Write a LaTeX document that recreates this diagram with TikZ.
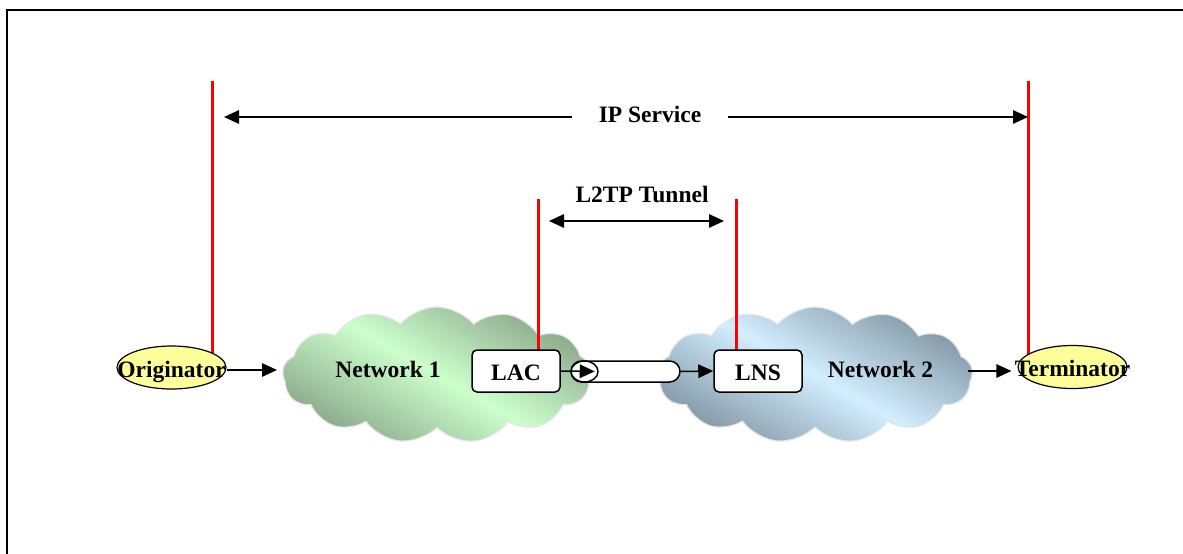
\documentclass[tikz,border=0pt]{standalone}
\usepackage{fontspec}
\setmainfont{Liberation Serif}
\usetikzlibrary{shapes.symbols,shapes.geometric,arrows.meta,calc}
\pgfdeclarelayer{clouds}
\pgfdeclarelayer{bars}
\pgfsetlayers{clouds,bars,main}
\definecolor{leafhi}{HTML}{CCFFCC}
\definecolor{leaflo}{HTML}{8CAA8C}
\definecolor{skyhi}{HTML}{D2EEFF}
\definecolor{skylo}{HTML}{8499A8}
\definecolor{endpt}{HTML}{FFFF99}
\definecolor{barred}{HTML}{FF0000}
\begin{document}
\begin{tikzpicture}[x=1pt,y=-1pt,
  >={Triangle[length=15pt,width=13.5pt]},
  lbl/.style={font=\fontsize{23.5}{28}\selectfont\bfseries, text height=19pt, text depth=0pt, inner sep=0pt},
  box/.style={lbl, draw, line width=1.5pt, rounded corners=5pt, fill=white, minimum width=88pt, minimum height=42pt},
  endnode/.style={lbl, ellipse, draw, line width=1.2pt, fill=endpt, minimum width=109pt, minimum height=43pt},
  netcloud/.style={cloud, cloud puffs=13, cloud puff arc=100, cloud ignores aspect, draw=black!10, line width=1.2pt,
    minimum width=309pt, minimum height=136pt, inner sep=0pt},
  conn/.style={line width=1.5pt, ->},
  redbar/.style={line width=3pt, barred},
  pipestyle/.style={draw, line width=1.5pt, fill=white, inner sep=0pt}]
\useasboundingbox (0,0) rectangle (1183,554);
\clip (0,0) rectangle (1183,554);
% outer frame
\draw[line width=2.5pt] (7,10) rectangle (1200,580);

% the two networks
\begin{pgfonlayer}{clouds}
\node[netcloud, top color=leaflo, bottom color=leaflo, middle color=leafhi, shading angle=-30] (net1) at (437,375) {};
\node[netcloud, top color=skylo, bottom color=skylo, middle color=skyhi, shading angle=-30, minimum width=315pt] (net2) at (815,375) {};
\end{pgfonlayer}
\node[lbl] (n1) at (388,367.5) {Network 1};
\node[lbl] (n2) at (880.5,367.5) {Network 2};

% end points and tunnel end points
\node[endnode] (orig) at (171.5,367.5) {\makebox[0pt]{Originator}};
\node[endnode] (term) at (1072.5,367) {\makebox[0pt]{Terminator}};
\node[box] (lac) at (516,371) {LAC};
\node[box] (lns) at (758,371) {LNS};

% the tunnel pipe
\node[pipestyle, rounded corners=10.5pt, minimum width=109pt, minimum height=21pt] (pipe) at (625.5,371.5) {};
\node[pipestyle, ellipse, minimum width=27pt, minimum height=21pt] (pipeend) at (584.5,371.5) {};

% data path
\coordinate (in1) at (277,370);
\coordinate (out2) at (968,371);
\draw[conn] (orig.east |- in1) -- (in1);
\draw[conn, shorten >=4pt] (lac.east) -- (pipeend.east);
\draw[conn] (pipe.east) -- (lns.west);
\draw[conn, shorten >=6pt] (out2) -- (out2 -| term.west);

% service boundaries
\coordinate (m1) at (212,81);
\coordinate (m2) at (538,199);
\coordinate (m3) at (736,199);
\coordinate (m4) at (1028,81);
\begin{pgfonlayer}{bars}
\draw[redbar] (m1) -- (m1 |- orig.center);
\draw[redbar] (m2) -- (m2 |- lac.center);
\draw[redbar] (m3) -- (m3 |- lns.center);
\draw[redbar] (m4) -- (m4 |- term.center);
\end{pgfonlayer}

% IP service span
\node[lbl, inner xsep=26.5pt] (ips) at (650,112.5) {IP Service};
\coordinate (ipa) at (224,117);
\coordinate (ipb) at (1028,117);
\draw[conn] (ipa -| ips.west) -- (ipa);
\draw[conn] (ipb -| ips.east) -- (ipb);

% L2TP tunnel span
\node[lbl] (tun) at (642,192.5) {L2TP Tunnel};
\coordinate (ta) at (549,221);
\coordinate (tb) at (724,221);
\draw[line width=1.5pt, <->] (ta) -- (tb);
\end{tikzpicture}
\end{document}
